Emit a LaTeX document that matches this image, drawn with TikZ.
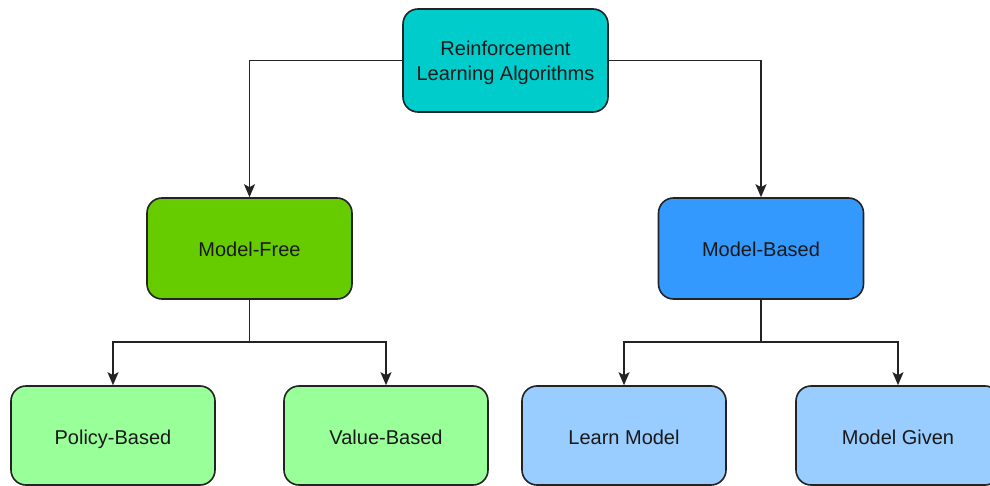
\documentclass[tikz,border=0pt]{standalone}
\usepackage{fontspec}
\setmainfont{Liberation Sans}
\usetikzlibrary{arrows.meta}
\definecolor{teal1}{RGB}{0,204,204}
\definecolor{green1}{RGB}{102,204,0}
\definecolor{blue1}{RGB}{51,153,255}
\definecolor{lgreen}{RGB}{153,255,153}
\definecolor{lblue}{RGB}{153,204,255}
\definecolor{txt}{RGB}{25,25,25}
\definecolor{edge}{RGB}{35,35,35}
\tikzset{
  box/.style={draw=edge, line width=1.6pt, rounded corners=15pt, minimum width=204pt, minimum height=101pt, align=center, text=txt, font=\fontsize{20}{25}\selectfont, inner sep=0pt},
  one/.style={text height=20pt, text depth=3pt},
  lbl/.style={align=center, text=txt, font=\fontsize{20}{25}\selectfont, inner sep=0pt},
  conn/.style={draw=edge, line width=1.7pt},
  arr/.style={conn, -{Stealth[length=13pt,width=11pt,inset=3pt]}}
}
\begin{document}
\begin{tikzpicture}[x=1pt,y=-1pt]
\useasboundingbox (0,0) rectangle (990,486);
\clip (0,0) rectangle (990,486);
\fill[white] (0,0) rectangle (990,486);
\node[box, fill=teal1, minimum height=103pt, minimum width=205pt] (rl) at (505.5,60.5) {};
\node[lbl] (rltext) at ([yshift=-2pt]rl.center) {Reinforcement\\Learning Algorithms};
\node[box, one, fill=green1, minimum width=205pt] (mf) at (249.5,248.5) {Model-Free};
\node[box, one, fill=blue1, minimum width=205pt] (mb) at (761,248.5) {Model-Based};
\node[box, one, fill=lgreen, minimum height=99pt] (pb) at (113,435.5) {Policy-Based};
\node[box, one, fill=lgreen, minimum height=99pt] (vb) at (386,435.5) {Value-Based};
\node[box, one, fill=lblue, minimum height=99pt] (lm) at (624,435.5) {Learn Model};
\node[box, one, fill=lblue, minimum height=99pt] (mg) at (898,435.5) {Model Given};
\draw[arr] (rl.west) -| (mf.north);
\draw[arr] (rl.east) -| (mb.north);
\coordinate (j1) at (mf.south |- 0,342);
\coordinate (j2) at (mb.south |- 0,342);
\draw[conn] (mf.south) -- (j1);
\draw[arr] (j1) -| (pb.north);
\draw[arr] (j1) -| (vb.north);
\draw[conn] (mb.south) -- (j2);
\draw[arr] (j2) -| (lm.north);
\draw[arr] (j2) -| (mg.north);
\end{tikzpicture}
\end{document}
